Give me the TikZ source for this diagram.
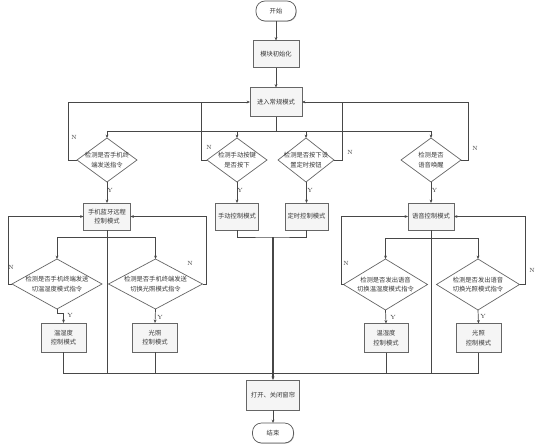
\documentclass[tikz,border=0pt]{standalone}
\usepackage{fontspec}
\newfontfamily\cjk{Noto Sans CJK SC}
\usetikzlibrary{shapes.geometric,arrows.meta,shadows}
\begin{document}
\begin{tikzpicture}[x=1pt,y=-1pt,
  every node/.style={inner sep=0pt, outer sep=0pt},
  line/.style={draw=black!72, line width=0.7pt},
  arr/.style={line, -{Stealth[length=3.4pt,width=2.8pt]}},
  boxn/.style={draw=black!60, line width=0.7pt, fill=black!4, align=center, text=black!78,
    font=\cjk\fontsize{6.3}{9.5}\selectfont, minimum height=27pt,
    drop shadow={shadow xshift=0.8pt, shadow yshift=-0.8pt, fill=black!40, opacity=1}},
  term/.style={draw=black!65, line width=0.7pt, fill=white, rounded corners=9pt, text=black!78,
    font=\cjk\fontsize{6.3}{9.5}\selectfont, minimum width=40pt, minimum height=20pt,
    drop shadow={shadow xshift=0.6pt, shadow yshift=-0.6pt, fill=black!30, opacity=1}},
  dia/.style={diamond, draw=black!60, line width=0.7pt, fill=white, inner sep=0pt},
  dtext/.style={font=\cjk\fontsize{6.3}{9.5}\selectfont, align=center, inner sep=0pt, text=black!78},
  yn/.style={font=\rmfamily\fontsize{6}{6}\selectfont, text=black!80}
]
\useasboundingbox (0,0) rectangle (538,447);

% top chain
\node[term] (start) at (276,11) {开始};
\node[boxn, minimum width=46pt] (init) at (276,54) {模块初始化};
\node[boxn, minimum width=52pt, minimum height=29pt] (normal) at (276,102) {进入常规模式};

% first level diamonds
\node[dia, minimum width=60pt, minimum height=44pt, label={[dtext]center:{检测是否手机终\\端发送指令}}] (d1) at (107,160) {};
\node[dia, minimum width=60pt, minimum height=44pt, label={[dtext]center:{检测手动按键\\是否按下}}] (d2) at (237,160) {};
\node[dia, minimum width=56pt, minimum height=44pt, label={[dtext]center:{检测是否按下设\\置定时按钮}}] (d3) at (306,160) {};
\node[dia, minimum width=60pt, minimum height=44pt, label={[dtext]center:{检测是否\\语音唤醒}}] (d4) at (431,160) {};

% second level boxes
\node[boxn, minimum width=47pt] (b1) at (107,216.5) {手机蓝牙远程\\控制模式};
\node[boxn, minimum width=43pt] (b2) at (237,216.5) {手动控制模式};
\node[boxn, minimum width=43pt] (b3) at (306.5,216.5) {定时控制模式};
\node[boxn, minimum width=46pt] (b4) at (431,216.5) {语音控制模式};

% third level diamonds
\node[dia, minimum width=90pt, minimum height=50pt, label={[dtext]center:{检测是否手机终端发送\\切温湿度模式指令}}] (d5) at (57,284) {};
\node[dia, minimum width=94pt, minimum height=50pt, label={[dtext]center:{检测是否手机终端发送\\切换光照模式指令}}] (d6) at (155.5,284) {};
\node[dia, minimum width=84pt, minimum height=51pt, label={[dtext]center:{检测是否发出语音\\切换温湿度模式指令}}] (d7) at (385.5,284.5) {};
\node[dia, minimum width=83pt, minimum height=51pt, label={[dtext]center:{检测是否发出语音\\切换光照模式指令}}] (d8) at (478,284.5) {};

% third level boxes
\node[boxn, minimum width=45pt, minimum height=29pt] (b5) at (63.5,337.5) {温湿度\\控制模式};
\node[boxn, minimum width=45pt, minimum height=29pt] (b6) at (155,337.5) {光照\\控制模式};
\node[boxn, minimum width=44pt, minimum height=29pt] (b7) at (386,338) {温湿度\\控制模式};
\node[boxn, minimum width=45pt, minimum height=29pt] (b8) at (478.5,338) {光照\\控制模式};

% bottom
\node[boxn, minimum width=53pt, minimum height=30pt] (act) at (273,395) {打开、关闭窗帘};
\node[term, minimum width=41pt] (stop) at (273,433) {结束};

% coordinates
\coordinate (tb) at (276,131);
\coordinate (j2) at (201,102);
\coordinate (j3) at (342,102);
\coordinate (bar1) at (107,237);
\coordinate (bar2) at (432,238);
\coordinate (mj) at (273,237);
\coordinate (busL) at (63.5,373);
\coordinate (busR) at (478.5,373);

% top chain arrows
\draw[arr] (start) -- (init);
\draw[arr] (init) -- (normal);
\draw[line] (normal.south) -- (tb);
\draw[arr] (tb) -| (d1.north);
\draw[arr] (tb) -| (d2.north);
\draw[arr] (tb) -| (d3.north);
\draw[arr] (tb) -| (d4.north);

% N loops level 1
\draw[arr] (d1.west) -- ++(-9,0) |- (normal.west);
\draw[line] (d2.west) -| (j2);
\draw[line] (d3.east) -| (j3);
\draw[arr] (d4.east) -- ++(7,0) |- (normal.east);
\node[yn] at (74,137) {N};
\node[yn] at (209,147) {N};
\node[yn] at (350,152) {N};
\node[yn] at (475,148) {N};

% Y level 1
\draw[arr] (d1.south) -- (b1.north);
\draw[arr] (d2.south) -- (b2.north);
\draw[arr] (d3.south) -- (b3.north |- d3.south) -- (b3.north);
\draw[arr] (d4.south) -- (b4.north);
\node[yn] at (110,190) {Y};
\node[yn] at (240,190) {Y};
\node[yn] at (310,190) {Y};
\node[yn] at (434.5,190) {Y};

% manual & timer merge
\draw[line] (b2.south) |- (mj) -| (b3.south);
\draw[line, line width=1.3pt, -{Stealth[length=3.6pt,width=3pt]}] (mj) -- (act.north);

% left group
\draw[line] (b1.south) -- (b1.south |- busL);
\draw[arr] (bar1) -| (d5.north);
\draw[arr] (bar1) -| (d6.north);
\draw[arr] (d5.west) -- ++(-4,0) |- (b1.west);
\draw[arr] (d6.east) -- ++(4,0) |- (b1.east);
\draw[arr] (d5.south) -- ++(0,4) -| (b5.north);
\draw[arr] (d6.south) -- (b6.north);
\node[yn] at (11,267) {N};
\node[yn] at (190,263) {N};
\node[yn] at (70,315) {Y};
\node[yn] at (160,317) {Y};

% right group
\draw[line] (b4.south) -- (b4.south |- busR);
\draw[arr] (bar2) -| (d7.north);
\draw[arr] (bar2) -| (d8.north);
\draw[arr] (d7.west) -- ++(-2,0) |- (b4.west);
\draw[arr] (d8.east) -- ++(6,0) |- (b4.east);
\draw[arr] (d7.south) -- (b7.north);
\draw[arr] (d8.south) -- (b8.north);
\node[yn] at (346,263) {N};
\node[yn] at (532,270) {N};
\node[yn] at (393,317) {Y};
\node[yn] at (483,316) {Y};

% bottom bus
\draw[line, line width=0.8pt] (b5.south) |- (busR) -- (b8.south);
\draw[line] (b6.south) -- (b6.south |- busL);
\draw[line] (b7.south) -- (b7.south |- busL);
\draw[arr] (act.south) -- (stop.north);
\end{tikzpicture}
\end{document}
